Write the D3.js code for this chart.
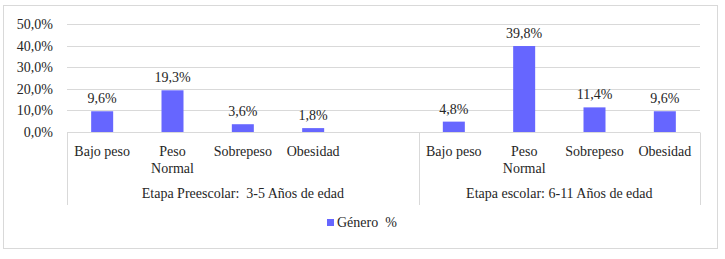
<!DOCTYPE html>
<html>
<head>
<meta charset="utf-8">
<script src="https://cdn.jsdelivr.net/npm/d3@7"></script>
</head>
<body style="margin:0">
<svg id="chart" width="725" height="259"></svg>
<script>
// categories (empty slot between the two groups, like the original)
const categories = ["Bajo peso", "Peso\nNormal", "Sobrepeso", "Obesidad", "",
                    "Bajo peso ", "Peso\nNormal ", "Sobrepeso ", "Obesidad "];
const values = [9.6, 19.3, 3.6, 1.8, null, 4.8, 39.8, 11.4, 9.6];
const groups = [
    { label: "Etapa Preescolar:\u00a0 3-5 Años de edad", from: 0, to: 4 },
    { label: "Etapa escolar: 6-11 Años de edad", from: 5, to: 8 }
];
const yTicks = [0, 10, 20, 30, 40, 50];
const seriesName = "Género\u00a0 %";

const color = "#6666ff";
const grid = "#d9d9d9";
const ink = "#262626";
const font = "Times New Roman";
const fs = 14;
const fmt = v => d3.format(".1f")(v).replace(".", ",") + "%";

const svg = d3.select("#chart");
const margin = { top: 24, left: 67, right: 25, bottom: 127 };
const W = 725, H = 259;

function label(sel) {
    sel.attr("font-family", font)
        .attr("font-size", fs)
        .attr("fill", ink);
}

// outer frame
svg.append("rect")
    .attr("x", 3.5).attr("y", 5.5)
    .attr("width", 714).attr("height", 243)
    .attr("fill", "none").attr("stroke", grid);

const x = d3.scaleBand()
    .domain(d3.range(categories.length))
    .range([margin.left, W - margin.right])
    .padding(0);

const y = d3.scaleLinear()
    .domain([0, 50])
    .range([H - margin.bottom, margin.top]);

// gridlines
svg.append("g").selectAll("line")
    .data(yTicks)
    .join("line")
    .attr("x1", margin.left).attr("x2", W - margin.right)
    .attr("y1", d => Math.round(y(d)) + 0.5).attr("y2", d => Math.round(y(d)) + 0.5)
    .attr("stroke", grid);

// y axis labels
svg.selectAll(".ylab")
    .data(yTicks)
    .join("text")
    .attr("class", "ylab")
    .call(label)
    .attr("x", margin.left - 14)
    .attr("y", d => y(d) + 5)
    .attr("text-anchor", "end")
    .text(fmt);

// bars
const barW = 22;
const data = values.map((v, i) => ({ i, v })).filter(d => d.v != null);
svg.selectAll(".bar")
    .data(data)
    .join("rect")
    .attr("class", "bar")
    .attr("x", d => x(d.i) + x.bandwidth() / 2 - barW / 2)
    .attr("y", d => y(d.v))
    .attr("width", barW)
    .attr("height", d => y(0) - y(d.v))
    .attr("fill", color);

// value labels
svg.selectAll(".vlab")
    .data(data)
    .join("text")
    .attr("class", "vlab")
    .call(label)
    .attr("x", d => x(d.i) + x.bandwidth() / 2)
    .attr("y", d => y(d.v) - 8)
    .attr("text-anchor", "middle")
    .text(d => fmt(d.v));

// category axis line + group separators
const y0 = Math.round(y(0)) + 0.5;
svg.append("line")
    .attr("x1", margin.left).attr("x2", W - margin.right)
    .attr("y1", y0).attr("y2", y0)
    .attr("stroke", grid);

const sepX = [x(0), x(groups[1].from), x(categories.length - 1) + x.bandwidth()];
svg.selectAll(".sep")
    .data(sepX)
    .join("line")
    .attr("class", "sep")
    .attr("x1", d => Math.round(d) + 0.5).attr("x2", d => Math.round(d) + 0.5)
    .attr("y1", y0).attr("y2", 205)
    .attr("stroke", grid);

// category labels, one text per line
const catLines = [];
categories.forEach((c, i) => {
    c.trim().split("\n").forEach((t, k) => { if (t) catLines.push({ t, i, k }); });
});
svg.selectAll(".clab")
    .data(catLines)
    .join("text")
    .attr("class", "clab")
    .call(label)
    .attr("text-anchor", "middle")
    .attr("x", d => x(d.i) + x.bandwidth() / 2)
    .attr("y", d => 156 + d.k * 17)
    .text(d => d.t);

// group labels
svg.selectAll(".glab")
    .data(groups)
    .join("text")
    .attr("class", "glab")
    .call(label)
    .attr("text-anchor", "middle")
    .attr("x", d => (x(d.from) + x(d.to) + x.bandwidth()) / 2)
    .attr("y", 198)
    .text(d => d.label);

// legend
svg.append("rect").attr("x", 327).attr("y", 219).attr("width", 7).attr("height", 7).attr("fill", color);
svg.append("text").call(label).attr("x", 337).attr("y", 227).text(seriesName);
</script>
</body>
</html>
